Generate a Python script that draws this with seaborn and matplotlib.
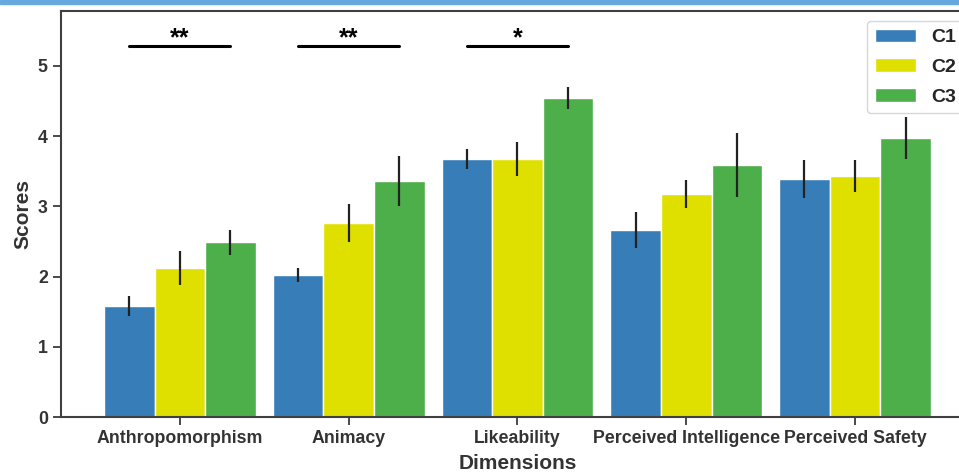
import pandas as pd
import seaborn as sns
from matplotlib import pyplot as plt
from matplotlib.patches import Rectangle

sns.set_theme(style='ticks')
plt.rcParams['font.family'] = ['Liberation Sans', 'DejaVu Sans']

dimensions = ['Anthropomorphism', 'Animacy', 'Likeability',
              'Perceived Intelligence', 'Perceived Safety']
conditions = ['C1', 'C2', 'C3']

c1_mean = [1.58, 2.02, 3.67, 2.66, 3.39]
c2_mean = [2.12, 2.76, 3.67, 3.17, 3.43]
c3_mean = [2.49, 3.36, 4.54, 3.59, 3.97]

c1_err = [0.14, 0.10, 0.14, 0.26, 0.27]
c2_err = [0.24, 0.27, 0.24, 0.20, 0.23]
c3_err = [0.18, 0.36, 0.16, 0.46, 0.30]

# significance brackets: (dimension index, label, height)
sig_idx = [0, 1, 2]
sig_text = ['**', '**', '*']
sig_y = [5.28, 5.28, 5.28]

colors = {'C1': '#377eb8', 'C2': '#e0e000', 'C3': '#4daf4a'}

means = [c1_mean, c2_mean, c3_mean]
errs = [c1_err, c2_err, c3_err]
rows = []
for c, m in zip(conditions, means):
    for d, v in zip(dimensions, m):
        rows.append({'Dimensions': d, 'Condition': c, 'Scores': v})
df = pd.DataFrame(rows)

fig = plt.figure(figsize=(9.59, 4.72), dpi=100)
ax = fig.add_axes([0.0636, 0.1165, 0.952, 0.860])

sns.barplot(data=df, x='Dimensions', y='Scores', hue='Condition',
            hue_order=conditions, palette=colors, width=0.9, saturation=1,
            errorbar=None, edgecolor='white', linewidth=1, ax=ax)

for cont, e in zip(ax.containers, errs):
    xs = [p.get_x() + p.get_width() / 2 for p in cont]
    ys = [p.get_height() for p in cont]
    ax.errorbar(xs, ys, yerr=e, fmt='none', ecolor='#222222',
                elinewidth=1.6, capsize=0, zorder=5)

w = 0.3
for i, t, y in zip(sig_idx, sig_text, sig_y):
    ax.plot([i - w, i + w], [y, y], color='black', lw=2.2)
    ax.text(i, y - 0.06, t, ha='center', va='bottom', fontsize=18,
            fontweight='bold', color='black')

ax.set_xlim(-0.704, 4.704)
ax.set_ylim(0, 5.78)
ax.set_yticks([0, 1, 2, 3, 4, 5])
ax.tick_params(labelsize=12.8, colors='.2')
for lab in ax.get_xticklabels() + ax.get_yticklabels():
    lab.set_fontweight('bold')
ax.set_xlabel('Dimensions', fontsize=15, fontweight='bold', color='.2', labelpad=5)
ax.set_ylabel('Scores', fontsize=15, fontweight='bold', color='.2')
for s in ax.spines.values():
    s.set_color('.25')
    s.set_linewidth(1.5)

leg = ax.legend(loc='upper right', title=None, frameon=True,
                prop={'size': 14, 'weight': 'bold'}, handlelength=2.1,
                labelspacing=0.62)
leg.get_frame().set_edgecolor('#cccccc')
for t in leg.get_texts():
    t.set_color('.15')

fig.patches.append(Rectangle((0, 1 - 4 / 472), 1, 4 / 472, transform=fig.transFigure,
                             color='#66a8e0', zorder=10))

fig.savefig('out.png', dpi=100)
